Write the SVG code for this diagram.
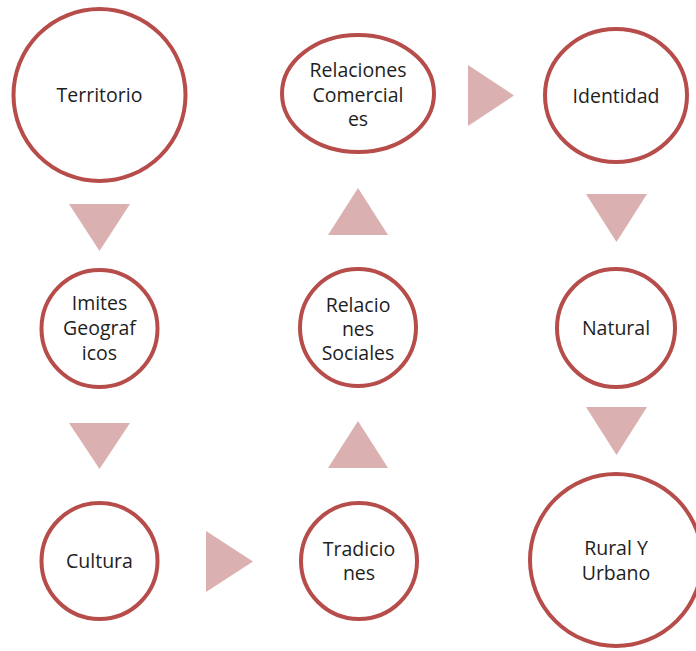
<svg xmlns="http://www.w3.org/2000/svg" width="696" height="651" viewBox="0 0 696 651">
<style>
.node ellipse{fill:#ffffff;stroke:#b64d4b;stroke-width:4}
.node text{font-family:"Open Sans","Liberation Sans",sans-serif;font-size:19.5px;fill:#1e1e1e;text-anchor:middle}
.arrow{fill:#dbb0b0}
</style>
<rect width="696" height="651" fill="#ffffff"/>
<g id="connectors">
<polygon class="arrow" points="69,204 130,204 99.5,251"/>
<polygon class="arrow" points="69,423 130,423 99.5,469"/>
<polygon class="arrow" points="206,531 206,592 253,561.5"/>
<polygon class="arrow" points="328,468 388,468 358,421"/>
<polygon class="arrow" points="328,235 388,235 358,188"/>
<polygon class="arrow" points="468,65 468,126 514,95.5"/>
<polygon class="arrow" points="586,194 647,194 616.5,242"/>
<polygon class="arrow" points="586,407 647,407 616.5,455"/>
</g>
<g id="territorio" class="node">
<ellipse cx="99.5" cy="95" rx="86" ry="86"/>
<text x="99.5" y="102">Territorio</text>
</g>
<g id="imites-geograficos" class="node">
<ellipse cx="99.5" cy="328.5" rx="58" ry="58.5"/>
<text x="99.5" y="310">Imites</text>
<text x="99.5" y="335">Geograf</text>
<text x="99.5" y="360">icos</text>
</g>
<g id="cultura" class="node">
<ellipse cx="99.5" cy="561" rx="58" ry="58"/>
<text x="99.5" y="568">Cultura</text>
</g>
<g id="tradiciones" class="node">
<ellipse cx="359" cy="561" rx="58" ry="58"/>
<text x="359" y="556">Tradicio</text>
<text x="359" y="580">nes</text>
</g>
<g id="relaciones-sociales" class="node">
<ellipse cx="358" cy="327.5" rx="58" ry="58.5"/>
<text x="358" y="312">Relacio</text>
<text x="358" y="336">nes</text>
<text x="358" y="360">Sociales</text>
</g>
<g id="relaciones-comerciales" class="node">
<ellipse cx="358" cy="93.5" rx="76" ry="58.5"/>
<text x="358" y="77">Relaciones</text>
<text x="358" y="102">Comercial</text>
<text x="358" y="126">es</text>
</g>
<g id="identidad" class="node">
<ellipse cx="616" cy="95.5" rx="71" ry="66.5"/>
<text x="616" y="103">Identidad</text>
</g>
<g id="natural" class="node">
<ellipse cx="616" cy="328" rx="59" ry="59"/>
<text x="616" y="335">Natural</text>
</g>
<g id="rural-y-urbano" class="node">
<ellipse cx="616" cy="560" rx="86" ry="86"/>
<text x="616" y="555">Rural Y</text>
<text x="616" y="580">Urbano</text>
</g>
</svg>
